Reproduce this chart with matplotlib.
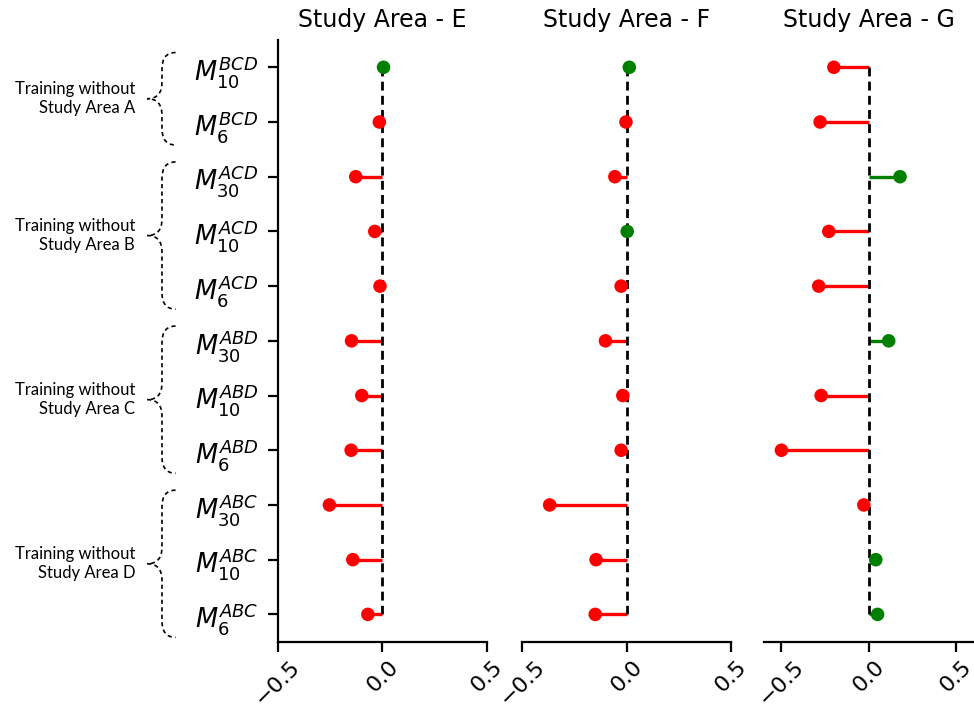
import matplotlib.pyplot as plt
import matplotlib.transforms as mtransforms
from matplotlib.path import Path
from matplotlib.patches import PathPatch

# model labels, top to bottom
models = [
    r"$M_{10}^{BCD}$", r"$M_{6}^{BCD}$",
    r"$M_{30}^{ACD}$", r"$M_{10}^{ACD}$", r"$M_{6}^{ACD}$",
    r"$M_{30}^{ABD}$", r"$M_{10}^{ABD}$", r"$M_{6}^{ABD}$",
    r"$M_{30}^{ABC}$", r"$M_{10}^{ABC}$", r"$M_{6}^{ABC}$",
]

# values
area_e = [0.005, -0.015, -0.128, -0.037, -0.012, -0.148, -0.099, -0.150, -0.254, -0.142, -0.070]
area_f = [0.013, -0.003, -0.056, 0.003, -0.026, -0.101, -0.018, -0.026, -0.368, -0.146, -0.150]
area_g = [-0.199, -0.278, 0.181, -0.228, -0.286, 0.116, -0.272, -0.500, -0.027, 0.042, 0.052]

titles = ["Study Area - E", "Study Area - F", "Study Area - G"]
xlims = [(-0.5, 0.5), (-0.5, 0.5), (-0.6, 0.6)]
xticks = [-0.5, 0.0, 0.5]

# left-out study area and first/last row of each group
group_names = ["A", "B", "C", "D"]
group_first = [0, 2, 5, 8]
group_last = [1, 4, 7, 10]

fig = plt.figure(figsize=(9.74, 7.08), dpi=100)
lefts = [0.2854, 0.536, 0.7844]
axes = [fig.add_axes([l, 0.0936, 0.2146, 0.85]) for l in lefts]

rows = list(range(len(models)))
for ax, vals, title, xl in zip(axes, [area_e, area_f, area_g], titles, xlims):
    colors = ["green" if v > 0 else "red" for v in vals]
    ax.hlines(rows, 0, vals, colors=colors, lw=2.4, zorder=2)
    ax.vlines(0, 0, len(models) - 1, colors="black", lw=2,
              linestyles=(0, (3.2, 1.9)), zorder=3)
    ax.scatter(vals, rows, c=colors, s=95, zorder=4, edgecolors="none")
    ax.set_xlim(*xl)
    ax.set_ylim(len(models) - 0.5, -0.5)
    ax.set_xticks(xticks)
    ax.set_xticklabels([f"{t:.1f}".replace("-", "\u2212") for t in xticks],
                       rotation=45, fontsize=16)
    ax.set_title(title, fontsize=17, pad=9)
    for s in ["top", "right"]:
        ax.spines[s].set_visible(False)
    ax.spines["bottom"].set_linewidth(1.6)
    ax.spines["left"].set_linewidth(1.6)
    ax.tick_params(axis="both", direction="out", length=7, width=1.6)

axes[0].set_yticks(rows)
axes[0].set_yticklabels(models, fontsize=18.5)
axes[0].tick_params(axis="y", pad=7)
for ax in axes[1:]:
    ax.spines["left"].set_visible(False)
    ax.set_yticks([])

# dashed braces with group captions on the left
ax = axes[0]
trans = mtransforms.blended_transform_factory(ax.transAxes, ax.transData)
xr, xm, xt = -0.49, -0.555, -0.625
r = 0.3
for name, a, b in zip(group_names, group_first, group_last):
    top = a - 0.27
    bot = b + 0.42
    mid = (top + bot) / 2
    verts = [(xr, top), (xm, top), (xm, top + r),
             (xm, mid - r), (xm, mid), (xt, mid),
             (xm, mid), (xm, mid + r),
             (xm, bot - r), (xm, bot), (xr, bot)]
    codes = [Path.MOVETO, Path.CURVE3, Path.CURVE3,
             Path.LINETO, Path.CURVE3, Path.CURVE3,
             Path.CURVE3, Path.CURVE3,
             Path.LINETO, Path.CURVE3, Path.CURVE3]
    patch = PathPatch(Path(verts, codes), transform=trans, fill=False,
                      lw=1.2, ls=(0, (2.5, 2)), ec="black", clip_on=False)
    ax.add_patch(patch)
    ax.text(-0.684, mid, "Training without\nStudy Area " + name,
            transform=trans, ha="right", va="center", multialignment="right",
            fontsize=12, family="Lato", linespacing=1.25)

fig.savefig("out.png", dpi=100)
